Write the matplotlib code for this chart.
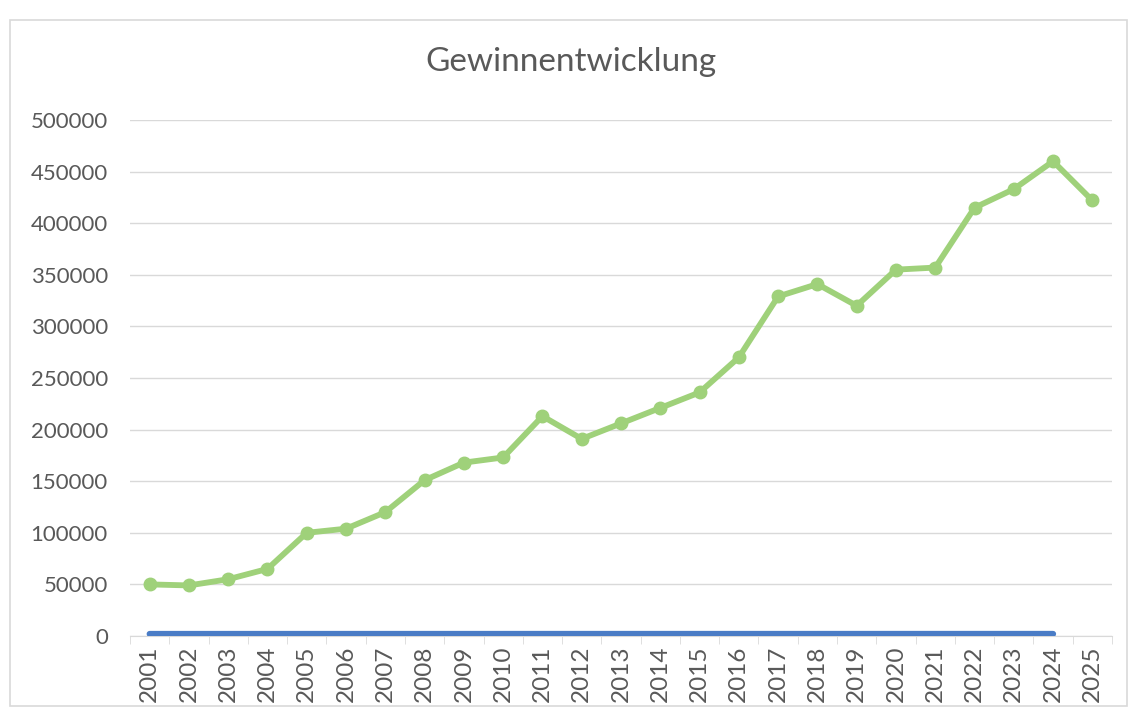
import matplotlib
matplotlib.use('Agg')
import matplotlib.pyplot as plt
from matplotlib.patches import Rectangle

# data
years = [str(y) for y in range(2001, 2026)]
gewinn = [50000, 49000, 55000, 65000, 100000, 104000, 120000, 151000,
          168000, 173000, 213000, 191000, 206000, 221000, 236000, 270000,
          329000, 341000, 320000, 355000, 357000, 415000, 433000, 460000,
          422000]
# second series: the year column itself (ends at 2024)
jahr = list(range(2001, 2025))

plt.rcParams['font.family'] = ['Lato', 'DejaVu Sans']
txt = '#595959'
grid = '#d9d9d9'

fig = plt.figure(figsize=(11.30, 7.12), dpi=100)
ax = fig.add_axes([130 / 1130, 76 / 712, 982 / 1130, 516 / 712])

# chart border
fig.patches.append(Rectangle((10 / 1130, 6 / 712), 1117 / 1130, 686 / 712,
                             transform=fig.transFigure, fill=False,
                             edgecolor='#d9d9d9', lw=1.2))

x = list(range(len(years)))
ax.plot(x[:len(jahr)], jahr, color='#4a7cc6', lw=4.4, solid_capstyle='round',
        zorder=3)
ax.plot(x, gewinn, color='#9fd17a', lw=4.2, marker='o', ms=9,
        markerfacecolor='#9fd17a', markeredgecolor='#9fd17a', zorder=4)

ax.set_xlim(-0.5, len(years) - 0.5)
ax.set_ylim(0, 500000)
ax.set_yticks(range(0, 500001, 50000))
ax.set_yticklabels([str(v) for v in range(0, 500001, 50000)])
ax.set_xticks(x)
ax.set_xticklabels(years, rotation=90)
ax.set_xticks([i - 0.5 for i in range(len(years) + 1)], minor=True)

ax.grid(axis='y', color=grid, lw=1)
ax.set_axisbelow(True)
for s in ['top', 'right', 'left']:
    ax.spines[s].set_visible(False)
ax.spines['bottom'].set_color(grid)
ax.tick_params(axis='y', length=0, labelsize=16, labelcolor=txt, pad=16)
ax.tick_params(axis='x', which='major', length=0, labelsize=17.5,
               labelcolor=txt, pad=7)
ax.tick_params(axis='x', which='minor', length=6, color=grid)

fig.text(0.505, 0.913, 'Gewinnentwicklung', ha='center', va='center',
         fontsize=24, color=txt)

fig.savefig('out.png', dpi=100)
